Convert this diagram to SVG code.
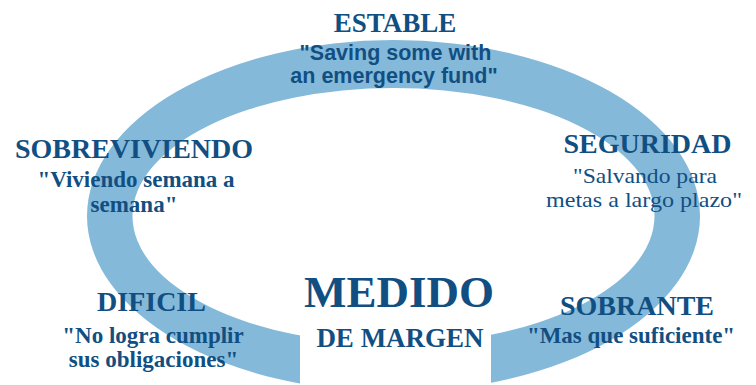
<svg xmlns="http://www.w3.org/2000/svg" width="756" height="385" viewBox="0 0 756 385">
  <defs>
    <clipPath id="gap">
      <path d="M0 0 H756 V385 H491 V250 H300 V385 H0 Z"/>
    </clipPath>
    <style>
      .ring { fill: #85b9d9; fill-rule: evenodd; }
      .h { font-family: "Liberation Serif", "Times New Roman", serif; font-weight: bold; fill: #114f82; text-anchor: middle; }
      .sb { font-family: "Liberation Serif", "Times New Roman", serif; font-weight: bold; font-size: 23px; fill: #114f82; text-anchor: middle; }
      .sr { font-family: "Liberation Serif", "Times New Roman", serif; font-weight: normal; font-size: 21px; fill: #114f82; text-anchor: middle; }
      .ss { font-family: "Liberation Sans", Arial, sans-serif; font-weight: bold; font-size: 21.5px; fill: #114f82; text-anchor: middle; }
    </style>
  </defs>
  <rect width="756" height="385" fill="#ffffff"/>
  <g id="connectors">
    <path class="ring" clip-path="url(#gap)" d="M87,216 a306.5,176 0 1,0 613,0 a306.5,176 0 1,0 -613,0 Z M132.5,216 a261,128 0 1,0 522,0 a261,128 0 1,0 -522,0 Z"/>
  </g>
  <g id="estable">
    <text class="h" x="395" y="32" font-size="27">ESTABLE</text>
    <text class="ss" x="395.5" y="60">"Saving some with</text>
    <text class="ss" x="394" y="83">an emergency fund"</text>
  </g>
  <g id="sobreviviendo">
    <text class="h" x="134" y="158" font-size="28">SOBREVIVIENDO</text>
    <text class="sb" x="136" y="187">"Viviendo semana a</text>
    <text class="sb" x="134" y="212">semana"</text>
  </g>
  <g id="seguridad">
    <text class="h" x="647.5" y="153" font-size="28">SEGURIDAD</text>
    <text class="sr" x="645" y="183" textLength="144" lengthAdjust="spacingAndGlyphs">"Salvando para</text>
    <text class="sr" x="644" y="207" textLength="196" lengthAdjust="spacingAndGlyphs">metas a largo plazo"</text>
  </g>
  <g id="dificil">
    <text class="h" x="151.5" y="311" font-size="28">DIFICIL</text>
    <text class="sb" x="153" y="343">"No logra cumplir</text>
    <text class="sb" x="153.5" y="367">sus obligaciones"</text>
  </g>
  <g id="medido">
    <text class="h" x="399" y="307" font-size="45">MEDIDO</text>
    <text class="h" x="400" y="347" font-size="27">DE MARGEN</text>
  </g>
  <g id="sobrante">
    <text class="h" x="637" y="315" font-size="28">SOBRANTE</text>
    <text class="sb" x="631" y="343">"Mas que suficiente"</text>
  </g>
</svg>
